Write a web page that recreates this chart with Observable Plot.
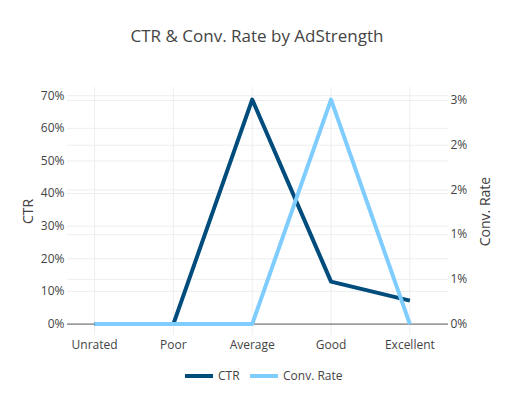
<!DOCTYPE html>
<html><head><meta charset="utf-8">
<script src="https://cdn.jsdelivr.net/npm/d3@7"></script>
<script src="https://cdn.jsdelivr.net/npm/@observablehq/plot@0.6"></script>
<style>
body{margin:0;background:#fff;}
#chart{width:511px;height:393px;}
</style></head>
<body><div id="chart"></div>
<script>
const categories = ["Unrated", "Poor", "Average", "Good", "Excellent"];
const ctr = [0, 0, 0.688, 0.130, 0.072];
const conv = [0, 0, 0, 0.0251, 0];
const ctrTicks = [0, 0.1, 0.2, 0.3, 0.4, 0.5, 0.6, 0.7];
const convTicks = [0, 0.005, 0.01, 0.015, 0.02, 0.025];
const convTickLabels = ["0%", "1%", "1%", "2%", "2%", "3%"];
const seriesNames = ["CTR", "Conv. Rate"];
const colors = ["#004c7c", "#7fccff"];

const r = d3.max(ctr) / d3.max(conv);
const rows = categories.map((c, i) => ({i, c, ctr: ctr[i], conv: conv[i] * r}));
const n = categories.length;
const font = '"Open Sans", sans-serif';

const plot = Plot.plot({
  width: 511, height: 393,
  marginTop: 87, marginBottom: 58, marginLeft: 67, marginRight: 63,
  style: {fontFamily: font, fontSize: "12px", color: "#444", background: "#fff"},
  x: {type: "linear", domain: [-0.343, 4.49]},
  y: {domain: [-0.035, 0.725]},
  marks: [
    Plot.ruleX(d3.range(n), {stroke: "#eee", strokeOpacity: 1}),
    Plot.ruleY(ctrTicks.filter(v => v > 0), {stroke: "#eee", strokeOpacity: 1}),
    Plot.ruleY(convTicks.filter(v => v > 0).map(v => v * r), {stroke: "#eee", strokeOpacity: 1}),
    Plot.ruleY([0], {stroke: "#555", strokeOpacity: 1}),
    Plot.axisX({ticks: d3.range(n), tickFormat: i => categories[i], tickSize: 0, tickPadding: 5, label: null}),
    Plot.axisY({anchor: "left", ticks: ctrTicks, tickFormat: d3.format(".0%"), tickSize: 0, tickPadding: 3,
      label: "CTR", labelAnchor: "center", labelArrow: "none", labelOffset: 44}),
    Plot.axisY({anchor: "right", ticks: convTicks.map(v => v * r),
      tickFormat: d => convTickLabels[convTicks.findIndex(t => Math.abs(t * r - d) < 1e-9)],
      tickSize: 0, tickPadding: 2,
      label: "Conv. Rate", labelAnchor: "center", labelArrow: "none", labelOffset: 41}),
    Plot.line(rows, {x: "i", y: "ctr", stroke: colors[0], strokeWidth: 4, strokeLinecap: "butt"}),
    Plot.line(rows, {x: "i", y: "conv", stroke: colors[1], strokeWidth: 4, strokeLinecap: "butt"})
  ]
});
plot.querySelectorAll('g[aria-label="y-axis label"]').forEach(g => g.setAttribute("font-size", "14"));

const svg = d3.select(plot);
svg.append("text").attr("x", 257).attr("y", 42).attr("text-anchor", "middle")
  .attr("font-family", font).attr("font-size", 17).attr("fill", "#444")
  .text("CTR & Conv. Rate by AdStrength");

// legend
const lg = svg.append("g").attr("font-family", font).attr("font-size", 12).attr("fill", "#444")
  .attr("text-anchor", "start");
const legendX = [185, 250];
seriesNames.forEach((s, k) => {
  lg.append("line").attr("x1", legendX[k]).attr("x2", legendX[k] + 28).attr("y1", 376).attr("y2", 376)
    .attr("stroke", colors[k]).attr("stroke-width", 4);
  lg.append("text").attr("x", legendX[k] + 33).attr("y", 380).attr("text-anchor", "start").text(s);
});

document.getElementById("chart").appendChild(plot);
</script>
</body></html>
